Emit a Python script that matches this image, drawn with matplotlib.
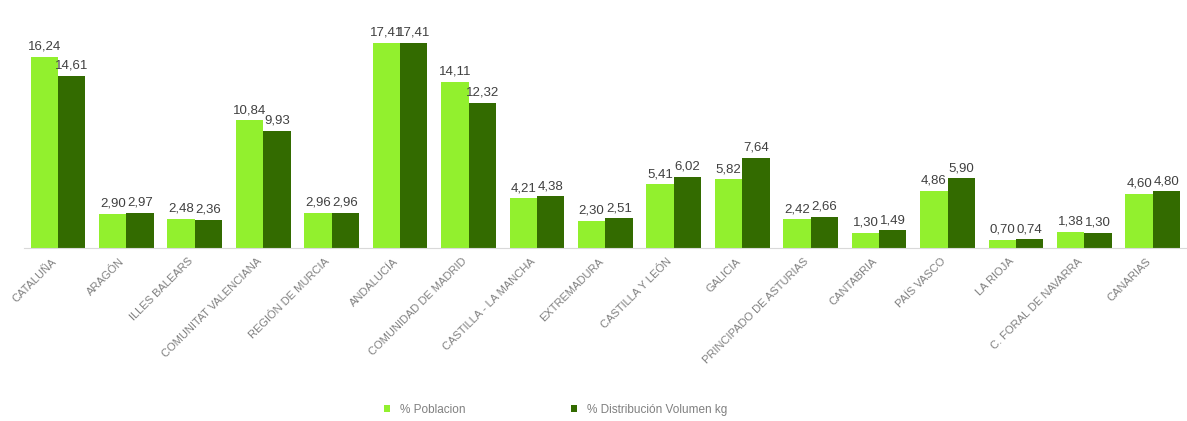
import numpy as np
import matplotlib.pyplot as plt
from matplotlib.transforms import ScaledTranslation

plt.rcParams['font.family'] = ['Liberation Sans', 'DejaVu Sans']

regiones = ['CATALUÑA', 'ARAGÓN', 'ILLES BALEARS', 'COMUNITAT VALENCIANA', 'REGIÓN DE MURCIA',
            'ANDALUCÍA', 'COMUNIDAD DE MADRID', 'CASTILLA - LA MANCHA', 'EXTREMADURA',
            'CASTILLA Y LEÓN', 'GALICIA', 'PRINCIPADO DE ASTURIAS', 'CANTABRIA', 'PAÍS VASCO',
            'LA RIOJA', 'C. FORAL DE NAVARRA', 'CANARIAS']
poblacion = [16.24, 2.90, 2.48, 10.84, 2.96, 17.41, 14.11, 4.21, 2.30, 5.41, 5.82, 2.42,
             1.30, 4.86, 0.70, 1.38, 4.60]
volumen = [14.61, 2.97, 2.36, 9.93, 2.96, 17.41, 12.32, 4.38, 2.51, 6.02, 7.64, 2.66,
           1.49, 5.90, 0.74, 1.30, 4.80]

c_light = '#92F02E'
c_dark = '#336B00'

fig = plt.figure(figsize=(11.87, 4.21), dpi=100)
ax = fig.add_axes([0.02, 0.411, 0.98, 0.56])

x = np.arange(len(regiones))
w = 0.4
b1 = ax.bar(x - w/2, poblacion, w, color=c_light, label='% Poblacion')
b2 = ax.bar(x + w/2, volumen, w, color=c_dark, label='% Distribución Volumen kg')

for bars, vals in ((b1, poblacion), (b2, volumen)):
    for r, v in zip(bars, vals):
        ax.annotate(f'{v:.2f}'.replace('.', ','), (r.get_x() + r.get_width()/2, v),
                    xytext=(0, 3), textcoords='offset points', ha='center', va='bottom',
                    fontsize=9.5, color='#404040')

ax.set_xlim(-0.5, len(regiones) - 0.5)
ax.set_ylim(0, 20)
ax.set_yticks([])
ax.set_xticks(x)
ax.set_xticklabels(regiones, rotation=45, ha='right', rotation_mode='anchor',
                   fontsize=8, color='#808080')
ax.tick_params(axis='x', length=0, pad=6)
# shift the slanted labels a little to the left, as in the original
shift = ScaledTranslation(-7/100, 0, fig.dpi_scale_trans)
for lbl in ax.get_xticklabels():
    lbl.set_transform(lbl.get_transform() + shift)
for s in ['top', 'right', 'left']:
    ax.spines[s].set_visible(False)
ax.spines['bottom'].set_color('#d9d9d9')

fig.legend(handles=[b1, b2], loc='center', bbox_to_anchor=(0.468, 0.026), ncol=2,
           frameon=False, fontsize=8.5, labelcolor='#808080', handlelength=0.5,
           handleheight=0.5, columnspacing=9)

fig.savefig('out.png', dpi=100)
